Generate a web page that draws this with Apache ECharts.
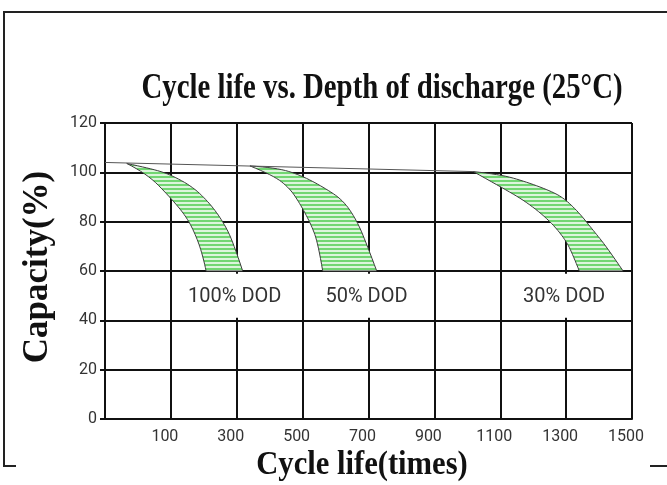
<!DOCTYPE html>
<html>
<head>
<meta charset="utf-8">
<script src="https://cdn.jsdelivr.net/npm/echarts@6/dist/echarts.min.js"></script>
<style>
  html, body { margin: 0; padding: 0; background: #fff; }
  #chart { width: 667px; height: 485px; }
</style>
</head>
<body>
<div id="chart"></div>
<script>
// common upper line (all bands start from it)
const topLine = [[-100, 104], [1018, 100.3]]

// 100% DOD band edges
const dod100Right = [[-34, 103.6], [37, 101.6], [97, 99.2], [168, 94.0], [219, 87.3], [259, 79.9], [289, 71.8], [318, 60]]
const dod100Left = [[-34, 103.6], [27, 99.5], [97, 90.0], [148, 81.9], [178, 73.8], [198, 65.7], [207, 60]]

// 50% DOD band edges
const dod50Right = [[340, 102.6], [421, 101.9], [495, 98.8], [563, 94.0], [623, 88.7], [664, 80.6], [694, 71.1], [725, 60]]
const dod50Left = [[340, 102.6], [411, 98.8], [462, 93.4], [495, 86.6], [527, 78.5], [547, 71.1], [561, 60]]

// 30% DOD band edges
const dod30Right = [[1018, 100.3], [1099, 99.2], [1180, 96.1], [1261, 92.0], [1299, 88.9], [1342, 83.2], [1382, 76.5], [1423, 69.8], [1473, 60]]
const dod30Left = [[1018, 100.3], [1099, 94.3], [1180, 88.0], [1251, 80.3], [1299, 72.5], [1321, 66.4], [1340, 60]]

const dodNames = ['100% DOD', '50% DOD', '30% DOD']
const dodX = [300, 700, 1300]
const dodY = 50

const numFont = 'Roboto, "Liberation Sans", sans-serif'
const serif = '"Liberation Serif", "DejaVu Serif", serif'

// striped green fill
const hatch = document.createElement('canvas')
hatch.width = 4
hatch.height = 4
const hctx = hatch.getContext('2d')
hctx.fillStyle = '#dcf5dc'
hctx.fillRect(0, 0, 4, 4)
hctx.fillStyle = '#72d672'
hctx.fillRect(0, 0, 4, 2)

// round the corners of a pixel polyline (drawing only)
function rounded(p) {
  const out = [p[0]]
  const mid = (a, b) => [(a[0] + b[0]) / 2, (a[1] + b[1]) / 2]
  for (let i = 1; i < p.length - 1; i++) {
    const a = i === 1 ? p[0] : mid(p[i - 1], p[i])
    const b = i === p.length - 2 ? p[p.length - 1] : mid(p[i], p[i + 1])
    const c = p[i]
    for (let t = 0.125; t <= 1.0001; t += 0.125) {
      const u = 1 - t
      out.push([u * u * a[0] + 2 * u * t * c[0] + t * t * b[0], u * u * a[1] + 2 * u * t * c[1] + t * t * b[1]])
    }
  }
  return out
}

function band(right, left) {
  const pts = right.concat(left.slice().reverse())
  return {
    type: 'custom',
    data: pts,
    encode: { x: 0, y: 1 },
    z: 3,
    silent: true,
    renderItem: function (params, api) {
      if (params.dataIndex !== 0) return
      const r = rounded(right.map(p => api.coord(p)))
      const l = rounded(left.map(p => api.coord(p))).reverse()
      return {
        type: 'polygon',
        shape: { points: r.concat(l) },
        style: { fill: { image: hatch, repeat: 'repeat' }, stroke: '#3c3c3c', lineWidth: 1 }
      }
    }
  }
}

const chart = echarts.init(document.getElementById('chart'))

chart.setOption({
  animation: false,
  grid: { left: 105, right: 35, top: 123, bottom: 66 },
  xAxis: {
    type: 'value',
    min: -100,
    max: 1500,
    interval: 200,
    axisLine: { show: true, onZero: false, lineStyle: { color: '#111', width: 2 } },
    axisTick: { show: false },
    splitLine: { show: true, lineStyle: { color: '#111', width: 2 } },
    axisLabel: {
      showMinLabel: false,
      showMaxLabel: true,
      color: '#333',
      fontSize: 16,
      fontFamily: numFont,
      margin: 10,
      padding: [0, 12, 0, 0],
      formatter: v => String(v)
    }
  },
  yAxis: {
    type: 'value',
    min: 0,
    max: 120,
    interval: 20,
    axisLine: { show: true, onZero: false, lineStyle: { color: '#111', width: 2 } },
    axisTick: { show: true, length: 5, lineStyle: { color: '#111', width: 2 } },
    splitLine: { show: true, lineStyle: { color: '#111', width: 2 } },
    axisLabel: { color: '#333', fontSize: 16, fontFamily: numFont, margin: 8 }
  },
  series: [
    {
      type: 'line',
      data: topLine,
      symbol: 'none',
      silent: true,
      lineStyle: { color: '#555', width: 1 },
      z: 4
    },
    band(dod100Right, dod100Left),
    band(dod50Right, dod50Left),
    band(dod30Right, dod30Left),
    {
      // DOD captions on white boxes that hide the grid behind them
      type: 'custom',
      silent: true,
      z: 10,
      data: dodX.map((x, i) => [x, dodY, i]),
      encode: { x: 0, y: 1 },
      renderItem: function (params, api) {
        const c = api.coord([api.value(0), api.value(1)])
        return {
          type: 'group',
          children: [
            {
              type: 'rect',
              shape: { x: c[0] - 58, y: c[1] - 22, width: 116, height: 44 },
              style: { fill: '#fff' }
            },
            {
              type: 'text',
              x: c[0] - 2,
              y: c[1] + 1,
              style: {
                text: dodNames[api.value(2)],
                font: '20px ' + numFont,
                fill: '#333',
                align: 'center',
                verticalAlign: 'middle'
              }
            }
          ]
        }
      }
    }
  ],
  graphic: [
    {
      type: 'polyline',
      shape: { points: [[16, 466], [4, 466], [4, 12], [667, 12]] },
      style: { stroke: '#222', lineWidth: 2, fill: null }
    },
    {
      type: 'line',
      shape: { x1: 650, y1: 466, x2: 667, y2: 466 },
      style: { stroke: '#222', lineWidth: 2 }
    },
    {
      type: 'text',
      x: 382,
      y: 89,
      scaleX: 0.8,
      style: {
        text: 'Cycle life vs. Depth of discharge (25°C)',
        font: 'bold 36px ' + serif,
        fill: '#111',
        align: 'center',
        verticalAlign: 'middle'
      }
    },
    {
      type: 'text',
      x: 38,
      y: 267,
      rotation: Math.PI / 2,
      style: {
        text: 'Capacity(%)',
        font: 'bold 35px ' + serif,
        fill: '#111',
        align: 'center',
        verticalAlign: 'middle'
      }
    },
    {
      type: 'text',
      x: 362,
      y: 465,
      scaleX: 0.9,
      style: {
        text: 'Cycle life(times)',
        font: 'bold 34px ' + serif,
        fill: '#111',
        align: 'center',
        verticalAlign: 'middle'
      }
    }
  ]
})
</script>
</body>
</html>
